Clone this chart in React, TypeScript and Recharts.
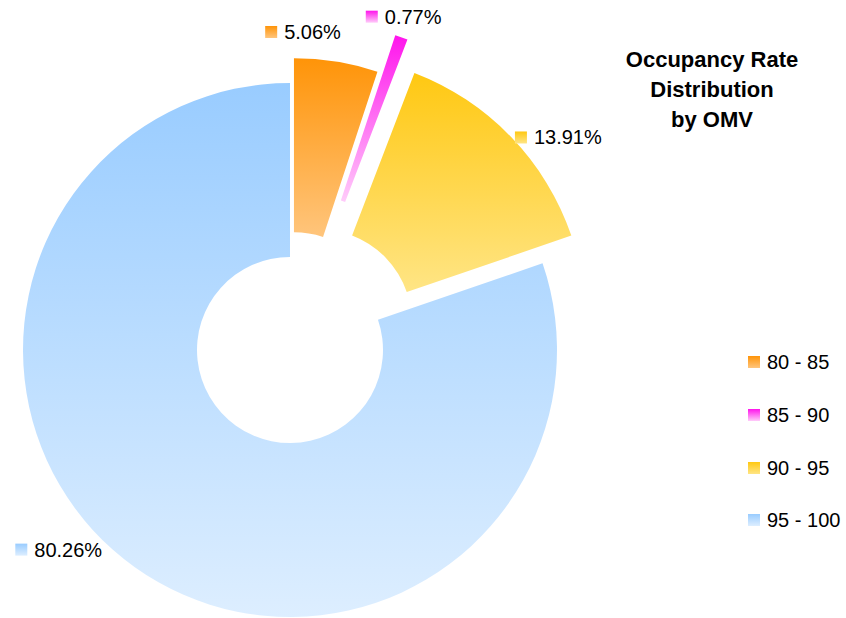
import React from 'react';
import { PieChart, Pie, Sector, Legend } from 'recharts';

const categories = ['80 - 85', '85 - 90', '90 - 95', '95 - 100'];
const shares = [5.06, 0.77, 13.91, 80.26];
const titleLines = ['Occupancy Rate', 'Distribution', 'by OMV'];

const data = categories.map((name, i) => ({ name, share: shares[i] }));

// top -> bottom colour of each slice
const gradTop = ['#FF9408', '#FF14EC', '#FFC812', '#99CCFF'];
const gradBottom = ['#FFC57C', '#FFCCFA', '#FFE585', '#DDEEFF'];
// how far each slice is pulled out of the ring
const explode = [25, 65, 40, 0];
// nudges to put the % labels roughly where excel put them
const labelNudge = [[-75, 2], [-44, 10], [-14, 25], [-105, -31]];

const RAD = Math.PI / 180;
const FONT = '"Liberation Sans", Arial, sans-serif';

const renderSlice = (props: any) => {
  const { cx, cy, midAngle, innerRadius, outerRadius, startAngle, endAngle, index } = props;
  const off = explode[index];
  const ux = Math.cos(-midAngle * RAD);
  const uy = Math.sin(-midAngle * RAD);
  const r = outerRadius + off + 25;
  const lx = cx + r * ux + labelNudge[index][0];
  const ly = cy + r * uy + labelNudge[index][1];
  return (
    <g key={index}>
      <Sector
        cx={cx + off * ux}
        cy={cy + off * uy}
        innerRadius={innerRadius}
        outerRadius={outerRadius}
        startAngle={startAngle}
        endAngle={endAngle}
        fill={`url(#g${index})`}
        stroke="none"
      />
      <rect x={lx} y={ly - 13} width={12} height={12} fill={`url(#g${index})`} />
      <text x={lx + 19} y={ly} fontSize={20} fontFamily={FONT} fill="#000">
        {shares[index].toFixed(2)}%
      </text>
    </g>
  );
};

const renderLegend = (props: any) => (
  <div style={{ fontFamily: FONT }}>
    {(props.payload || []).map((p: any, i: number) => (
      <div key={i} style={{ height: 52.67, display: 'flex', alignItems: 'center' }}>
        <span
          style={{
            width: 12,
            height: 12,
            marginRight: 7,
            background: `linear-gradient(${gradTop[i]}, ${gradBottom[i]})`,
          }}
        />
        <span style={{ fontSize: 20, lineHeight: '20px', color: '#000' }}>{p.value}</span>
      </div>
    ))}
  </div>
);

const App = () => {
  return (
    <div style={{ position: 'absolute', left: 0, top: 0, width: 846, height: 618, background: '#fff' }}>
      <svg width={846} height={618} style={{ position: 'absolute', left: 0, top: 0, pointerEvents: 'none' }}>
        <defs>
          {gradTop.map((c, i) => (
            <linearGradient key={i} id={`g${i}`} x1="0" y1="0" x2="0" y2="1">
              <stop offset="0%" stopColor={c} />
              <stop offset="100%" stopColor={gradBottom[i]} />
            </linearGradient>
          ))}
        </defs>
        {titleLines.map((t, i) => (
          <text key={i} x={712} y={67 + i * 30} textAnchor="middle" fontSize={22} fontWeight="bold" fontFamily={FONT} fill="#000">
            {t}
          </text>
        ))}
      </svg>
      <PieChart width={846} height={618} margin={{ top: 0, right: 0, bottom: 0, left: 0 }}>
        <Pie
          data={data}
          dataKey="share"
          nameKey="name"
          cx={290}
          cy={350}
          innerRadius={93}
          outerRadius={267}
          startAngle={90}
          endAngle={-270}
          fill="none"
          stroke="none"
          label={renderSlice}
          labelLine={false}
          isAnimationActive={false}
        />
        <Legend layout="vertical" content={renderLegend} wrapperStyle={{ left: 748, top: 336, width: 98 }} />
      </PieChart>
    </div>
  );
};

export default App;
